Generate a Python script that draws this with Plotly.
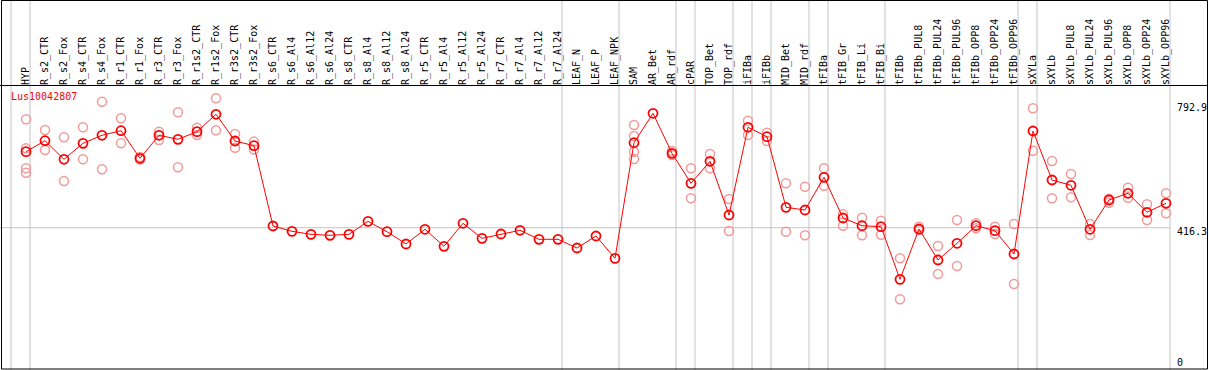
import plotly.graph_objects as go

categories = ["HYP", "R_s2_CTR", "R_s2_Fox", "R_s4_CTR", "R_s4_Fox", "R_r1_CTR", "R_r1_Fox",
              "R_r3_CTR", "R_r3_Fox", "R_r1s2_CTR", "R_r1s2_Fox", "R_r3s2_CTR", "R_r3s2_Fox",
              "R_s6_CTR", "R_s6_Al4", "R_s6_Al12", "R_s6_Al24", "R_s8_CTR", "R_s8_Al4",
              "R_s8_Al12", "R_s8_Al24", "R_r5_CTR", "R_r5_Al4", "R_r5_Al12", "R_r5_Al24",
              "R_r7_CTR", "R_r7_Al4", "R_r7_Al12", "R_r7_Al24", "LEAF_N", "LEAF_P", "LEAF_NPK",
              "SAM", "AR_Bet", "AR_rdf", "cPAR", "TOP_Bet", "TOP_rdf", "iFIBa", "iFIBb",
              "MID_Bet", "MID_rdf", "tFIBa", "tFIB_Gr", "tFIB_Li", "tFIB_Bi", "tFIBb",
              "tFIBb_PUL8", "tFIBb_PUL24", "tFIBb_PUL96", "tFIBb_OPP8", "tFIBb_OPP24",
              "tFIBb_OPP96", "sXYLa", "sXYLb", "sXYLb_PUL8", "sXYLb_PUL24", "sXYLb_PUL96",
              "sXYLb_OPP8", "sXYLb_OPP24", "sXYLb_OPP96"]

means = [646.5, 679.8, 623.5, 671.9, 696.2, 710.1, 626.5, 696.2, 684.0, 707.1, 759.8, 678.9, 664.6,
         421.4, 405.3, 396.2, 393.2, 396.2, 435.6, 404.1, 366.9, 411.4, 359.9, 429.6, 384.1,
         397.2, 408.4, 381.1, 381.1, 354.7, 391.1, 323.5,
         673.7, 762.8, 641.6, 550.7, 617.4, 454.7, 720.4, 691.9, 478.0, 469.9, 568.9, 445.6,
         422.3, 419.3, 259.9, 412.3, 318.4, 369.0, 422.3, 407.2, 336.6,
         709.2, 560.7, 544.7, 411.4, 500.2, 520.5, 462.9, 490.2]

replicates = [
    [744.6, 656.8, 596.2, 582.9], [712.2, 651.6], [690.1, 557.7], [720.4, 623.5],
    [797.9, 593.2], [747.6, 671.9], [630.4, 622.5], [707.1, 681.9], [765.8, 599.2],
    [719.2, 697.1], [808.2, 711.3], [700.1, 658.6], [677.0, 653.0],
    [], [], [], [], [], [], [], [], [], [], [], [], [], [], [], [], [], [], [],
    [727.4, 694.0, 646.5, 624.4], [], [648.6, 636.5], [596.2, 505.3], [639.5, 596.2],
    [503.2, 406.2], [740.4, 697.1], [704.0, 678.9], [550.7, 404.1], [540.4, 393.2],
    [596.2, 543.5], [456.8, 422.3], [446.5, 393.2], [437.4, 395.0], [323.5, 199.3],
    [419.3, 409.3], [360.8, 276.0], [439.5, 300.2], [429.6, 414.4], [419.3, 397.2],
    [427.4, 245.7], [778.0, 649.5], [618.3, 505.3], [578.9, 508.3], [427.4, 394.1],
    [504.1, 492.0], [537.4, 507.1], [487.1, 439.6], [520.5, 459.9]]

group_ends = [-1, 0, 28, 31, 34, 35, 37, 38, 39, 41, 42, 45, 52, 53, 60]
axis_labels = [792.9, 416.3, 0]
title_text = "Lus10042807"

W, H = 1209, 370
TOP = 86
FONT = "DejaVu Sans Mono"

idx = list(range(len(categories)))
rx, ry = [], []
for i, reps in enumerate(replicates):
    for v in reps:
        rx.append(i)
        ry.append(v)

fig = go.Figure()
fig.add_trace(go.Scatter(x=rx, y=ry, mode="markers",
                         marker=dict(symbol="circle-open", size=9, color="#f29a9a",
                                     line=dict(width=1.5, color="#f29a9a")),
                         hoverinfo="skip", showlegend=False))
fig.add_trace(go.Scatter(x=idx, y=means, mode="lines+markers",
                         line=dict(color="#ff0000", width=1),
                         marker=dict(symbol="circle-open", size=9, color="#ff0000",
                                     line=dict(width=1.8, color="#ff0000")),
                         showlegend=False))

xr0 = -26 / 19
xr1 = (W - 26) / 19
off = 4 / 19
ytop_paper = (H - 0.5) / (H - TOP)

shapes = []
for g in group_ends:
    shapes.append(dict(type="line", xref="x", yref="paper", x0=g + off, x1=g + off,
                       y0=0, y1=ytop_paper, line=dict(color="#c4c4c4", width=1), layer="below"))
shapes.append(dict(type="line", xref="x", yref="y", x0=xr0, x1=group_ends[-1] + off,
                   y0=axis_labels[1], y1=axis_labels[1],
                   line=dict(color="#c4c4c4", width=1), layer="below"))
# separator between labels and plot
shapes.append(dict(type="line", xref="paper", yref="paper", x0=0, x1=1207.5 / W,
                   y0=(H - 85.5) / (H - TOP), y1=(H - 85.5) / (H - TOP),
                   line=dict(color="black", width=1)))
# frame
shapes.append(dict(type="rect", xref="paper", yref="paper", x0=1.5 / W, x1=1207.5 / W,
                   y0=1.0 / (H - TOP), y1=ytop_paper, line=dict(color="black", width=1),
                   fillcolor="rgba(0,0,0,0)"))

annotations = [dict(text=title_text, xref="paper", yref="paper", x=9 / W,
                    y=(H - 97) / (H - TOP), xanchor="left", yanchor="middle",
                    showarrow=False, font=dict(family=FONT, size=10, color="#ff0000"))]
shifts = [-4.6, -4.3, 3]
for v, s in zip(axis_labels, shifts):
    annotations.append(dict(text=f"{v:g}", xref="paper", yref="y", x=1175 / W, y=v,
                            xanchor="left", yanchor="middle", yshift=s, showarrow=False,
                            font=dict(family=FONT, size=10, color="black")))

fig.update_layout(
    width=W, height=H,
    margin=dict(l=0, r=0, t=TOP, b=0, pad=0, autoexpand=False),
    paper_bgcolor="white", plot_bgcolor="white",
    shapes=shapes, annotations=annotations,
    xaxis=dict(range=[xr0, xr1], side="top", tickmode="array", tickvals=idx,
               ticktext=categories, tickangle=-90, showgrid=False, zeroline=False,
               showline=False, ticks="", automargin=False,
               tickfont=dict(family=FONT, size=10, color="black")),
    yaxis=dict(range=[-14.8, 845.5], showgrid=False, zeroline=False, showticklabels=False,
               showline=False, ticks="", automargin=False),
    font=dict(family=FONT, size=10),
)

fig.write_html("out.html", config={"displayModeBar": False},
               post_script="document.body.style.margin='0';document.body.style.overflow='hidden';")
